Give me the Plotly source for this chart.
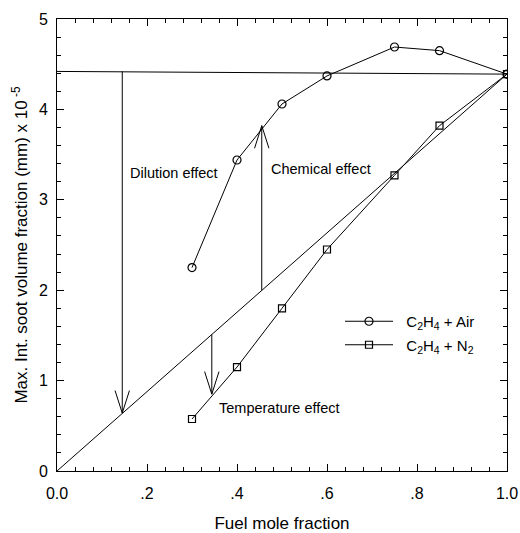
import plotly.graph_objects as go

# Data
fuel_x = [0.3, 0.4, 0.5, 0.6, 0.75, 0.85, 1.0]
air_y = [2.25, 3.44, 4.06, 4.37, 4.69, 4.65, 4.39]
n2_y = [0.575, 1.15, 1.80, 2.45, 3.27, 3.82, 4.39]
ref_level = 4.42
diag_x = [0.0, 1.0]
diag_y = [0.0, 4.39]

# arrows: x, start y, end y (head at end)
arrow_x = [0.145, 0.455, 0.344]
arrow_y0 = [4.42, 2.0, 1.51]
arrow_y1 = [0.64, 3.82, 0.85]

labels = ["Dilution effect", "Chemical effect", "Temperature effect"]
label_x = [0.158, 0.47, 0.355]
label_y = [3.3, 3.34, 0.70]

x_tickvals = [0, 0.2, 0.4, 0.6, 0.8, 1.0]
x_ticktext = ["0.0", ".2", ".4", ".6", ".8", "1.0"]
y_tickvals = [0, 1, 2, 3, 4, 5]

font = "Liberation Sans, Arial, sans-serif"
fig = go.Figure()

fig.add_trace(go.Scatter(x=diag_x, y=diag_y, mode="lines",
                         line=dict(color="black", width=1), showlegend=False, hoverinfo="skip"))
fig.add_trace(go.Scatter(x=[0, 1.0], y=[ref_level, air_y[-1]], mode="lines",
                         line=dict(color="black", width=1), showlegend=False, hoverinfo="skip"))
fig.add_trace(go.Scatter(x=fuel_x, y=air_y, mode="lines+markers",
                         name="\u00a0\u00a0C<sub>2</sub>H<sub>4</sub> + Air", legendgroup="air",
                         line=dict(color="black", width=1),
                         marker=dict(symbol="circle-open", size=8, color="black", line=dict(width=1.2))))
fig.add_trace(go.Scatter(x=fuel_x, y=n2_y, mode="lines+markers",
                         name="\u00a0\u00a0C<sub>2</sub>H<sub>4</sub> + N<sub>2</sub>", legendgroup="n2",
                         line=dict(color="black", width=1),
                         marker=dict(symbol="square-open", size=7, color="black", line=dict(width=1.2))))

shapes = []
head_h = 0.25
head_w = 0.016
for ax, y0, y1 in zip(arrow_x, arrow_y0, arrow_y1):
    shapes.append(dict(type="line", xref="x", yref="y", x0=ax, x1=ax, y0=y0, y1=y1,
                       line=dict(color="black", width=1)))
    d = 1 if y1 > y0 else -1
    path = f"M {ax-head_w},{y1 - d*head_h} L {ax},{y1} L {ax+head_w},{y1 - d*head_h}"
    shapes.append(dict(type="path", xref="x", yref="y", path=path,
                       line=dict(color="black", width=1)))

annotations = []
for t, lx, ly in zip(labels, label_x, label_y):
    annotations.append(dict(text=t, x=lx, y=ly, xref="x", yref="y", showarrow=False,
                            xanchor="left", yanchor="middle",
                            font=dict(family=font, size=14.5, color="black")))

axis_common = dict(showgrid=False, zeroline=False, showline=True, linecolor="black", linewidth=1,
                   mirror="ticks", ticks="inside", ticklen=7, tickcolor="black", tickwidth=1,
                   ticklabeloverflow="allow", automargin=False,
                   tickfont=dict(family=font, size=16, color="black"))

fig.update_layout(
    width=520, height=533,
    margin=dict(l=57, r=13, t=19, b=62),
    plot_bgcolor="white", paper_bgcolor="white",
    shapes=shapes, annotations=annotations,
    legend=dict(x=(340 - 57) / 450, y=(471 - 305) / 452, xanchor="left", yanchor="top",
                font=dict(family=font, size=15, color="black"), itemwidth=48,
                traceorder="grouped", tracegroupgap=1,
                bgcolor="rgba(0,0,0,0)"),
    xaxis=dict(range=[0, 1.0], tickvals=x_tickvals, ticktext=x_ticktext,
               minor=dict(dtick=0.04, tick0=0, ticks="inside", ticklen=4, tickcolor="black"),
               ticklabelstandoff=8,
               title=dict(text="Fuel mole fraction", font=dict(family=font, size=17, color="black"), standoff=15),
               **axis_common),
    yaxis=dict(range=[0, 5], tickvals=y_tickvals,
               minor=dict(dtick=0.2, tick0=0, ticks="inside", ticklen=4, tickcolor="black"),
               ticklabelstandoff=5,
               title=dict(text="Max. Int. soot volume fraction (mm) x 10<sup> -5</sup>",
                          font=dict(family=font, size=17, color="black"), standoff=6),
               **axis_common),
)

fig.write_html("out.html", config={"displayModeBar": False},
               post_script="document.body.style.margin='0';document.body.style.overflow='hidden';")
